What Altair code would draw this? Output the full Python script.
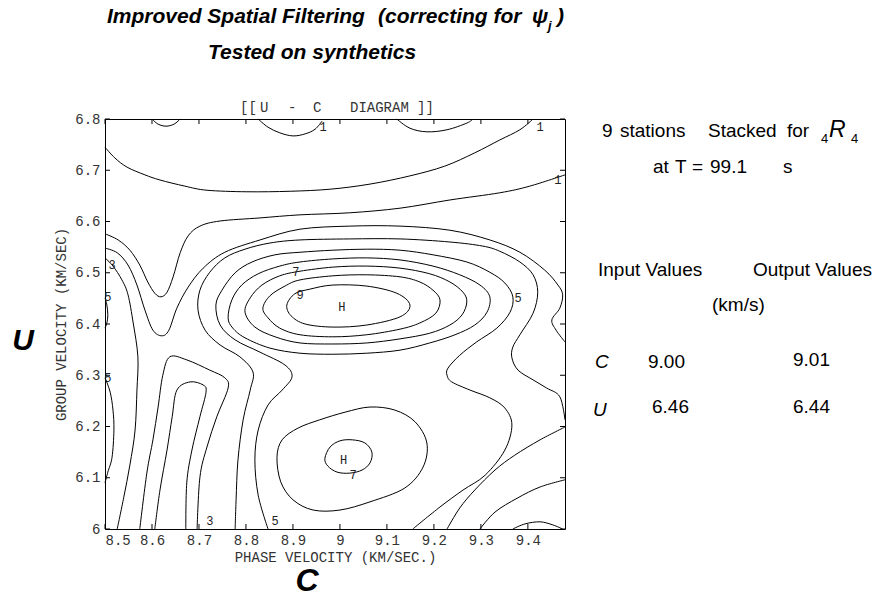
import altair as alt
import pandas as pd

# ---------------- axes ----------------
X_DOMAIN = [8.5, 9.479]
Y_DOMAIN = [6.0, 6.8]
X_TICKS = [8.5, 8.6, 8.7, 8.8, 8.9, 9.0, 9.1, 9.2, 9.3, 9.4]
Y_TICKS = [6.0, 6.1, 6.2, 6.3, 6.4, 6.5, 6.6, 6.7, 6.8]

# ---------------- contour lines (c = phase velocity, U = group velocity) ----------------
T1_C = [8.600, 8.613, 8.630, 8.647, 8.660]
T1_U = [6.800, 6.790, 6.786, 6.790, 6.800]
T2_C = [8.826, 8.847, 8.872, 8.900, 8.926, 8.947, 8.962]
T2_U = [6.800, 6.784, 6.773, 6.767, 6.771, 6.780, 6.796]
T3_C = [9.121, 9.149, 9.185, 9.228, 9.270, 9.283]
T3_U = [6.800, 6.782, 6.775, 6.779, 6.792, 6.800]
T4_C = [8.500, 8.521, 8.547, 8.585, 8.617, 8.670, 8.717, 8.802, 8.894, 8.979, 9.064, 9.149, 9.223, 9.287, 9.340, 9.383, 9.411]
T4_U = [6.745, 6.724, 6.706, 6.691, 6.681, 6.669, 6.661, 6.658, 6.659, 6.663, 6.673, 6.689, 6.708, 6.734, 6.759, 6.779, 6.800]
T5_C = [8.500, 8.528, 8.553, 8.574, 8.591, 8.606, 8.619, 8.632, 8.645, 8.660, 8.677, 8.702, 8.745, 8.830, 8.915, 9.021, 9.128, 9.234, 9.340, 9.404, 9.479]
T5_U = [6.576, 6.564, 6.544, 6.515, 6.482, 6.460, 6.453, 6.462, 6.492, 6.539, 6.572, 6.591, 6.601, 6.607, 6.613, 6.617, 6.626, 6.642, 6.656, 6.669, 6.691]
T6_C = [8.500, 8.526, 8.549, 8.568, 8.585, 8.602, 8.621, 8.636, 8.653, 8.677, 8.709, 8.755, 8.830, 8.915, 9.021, 9.128, 9.234, 9.319, 9.383, 9.436, 9.464, 9.474, 9.468, 9.451, 9.460, 9.479]
T6_U = [6.548, 6.539, 6.515, 6.476, 6.427, 6.388, 6.377, 6.388, 6.431, 6.472, 6.509, 6.540, 6.564, 6.585, 6.591, 6.591, 6.583, 6.564, 6.540, 6.505, 6.476, 6.457, 6.431, 6.408, 6.388, 6.365]
E4_C = [9.479, 9.468, 9.440, 9.411, 9.379, 9.366, 9.368, 9.383, 9.411, 9.421, 9.411, 9.383, 9.340, 9.304, 9.234, 9.128, 9.021, 8.915, 8.851, 8.798, 8.755, 8.723, 8.702, 8.698, 8.713, 8.745, 8.787, 8.815, 8.809, 8.794, 8.783, 8.779, 8.777]
E4_U = [6.213, 6.258, 6.275, 6.291, 6.310, 6.334, 6.355, 6.379, 6.421, 6.462, 6.496, 6.521, 6.542, 6.552, 6.560, 6.566, 6.566, 6.564, 6.558, 6.546, 6.529, 6.501, 6.466, 6.427, 6.388, 6.359, 6.336, 6.306, 6.271, 6.213, 6.135, 6.057, 6.000]
E5_C = [8.847, 8.826, 8.819, 8.826, 8.847, 8.877, 8.898, 8.883, 8.830, 8.777, 8.745, 8.736, 8.749, 8.777, 8.813, 8.862, 8.915, 8.985, 9.057, 9.128, 9.198, 9.270, 9.319, 9.351, 9.368, 9.362, 9.334, 9.291, 9.255, 9.230, 9.228, 9.238, 9.277, 9.319, 9.351, 9.366, 9.351, 9.309, 9.262, 9.213, 9.155]
E5_U = [6.000, 6.066, 6.135, 6.193, 6.242, 6.271, 6.297, 6.320, 6.345, 6.369, 6.398, 6.437, 6.466, 6.500, 6.521, 6.535, 6.540, 6.544, 6.546, 6.544, 6.535, 6.521, 6.501, 6.480, 6.453, 6.423, 6.392, 6.365, 6.339, 6.314, 6.300, 6.287, 6.271, 6.256, 6.236, 6.203, 6.154, 6.105, 6.076, 6.043, 6.000]
RB1_C = [9.479, 9.426, 9.372, 9.330, 9.287, 9.255, 9.228]
RB1_U = [6.199, 6.174, 6.144, 6.115, 6.076, 6.041, 6.000]
RB2_C = [9.479, 9.426, 9.377, 9.330, 9.298]
RB2_U = [6.096, 6.082, 6.060, 6.033, 6.000]
RB3_C = [9.368, 9.394, 9.426, 9.453, 9.474]
RB3_U = [6.000, 6.010, 6.014, 6.008, 6.000]
L5_C = [8.500, 8.511, 8.517, 8.519, 8.515, 8.506, 8.500]
L5_U = [6.295, 6.267, 6.232, 6.193, 6.140, 6.111, 6.090]
LA_C = [8.500, 8.504, 8.506, 8.504, 8.500]
LA_U = [6.451, 6.437, 6.418, 6.402, 6.392]
L3_C = [8.500, 8.517, 8.536, 8.549, 8.560, 8.570, 8.568, 8.564, 8.553, 8.540, 8.526]
L3_U = [6.529, 6.513, 6.486, 6.457, 6.402, 6.336, 6.271, 6.193, 6.125, 6.062, 6.000]
TO_C = [8.574, 8.589, 8.602, 8.613, 8.623, 8.638, 8.674, 8.723, 8.755, 8.762, 8.738, 8.717, 8.702, 8.696]
TO_U = [6.000, 6.109, 6.174, 6.238, 6.300, 6.336, 6.330, 6.310, 6.295, 6.275, 6.219, 6.160, 6.101, 6.000]
TI_C = [8.606, 8.617, 8.632, 8.643, 8.653, 8.681, 8.709, 8.715, 8.702, 8.685, 8.674, 8.672]
TI_U = [6.000, 6.076, 6.154, 6.219, 6.271, 6.287, 6.281, 6.267, 6.219, 6.154, 6.090, 6.000]

# closed rings
E6_C = [8.762, 8.770, 8.791, 8.826, 8.872, 8.915, 8.985, 9.057, 9.128, 9.198, 9.255, 9.298, 9.319, 9.313, 9.287, 9.245, 9.191, 9.128, 9.057, 8.985, 8.915, 8.851, 8.798, 8.772]
E6_U = [6.412, 6.447, 6.476, 6.498, 6.513, 6.521, 6.527, 6.529, 6.525, 6.513, 6.496, 6.476, 6.453, 6.423, 6.398, 6.379, 6.363, 6.349, 6.343, 6.341, 6.343, 6.353, 6.373, 6.392]
E7_C = [8.798, 8.809, 8.834, 8.872, 8.915, 8.985, 9.057, 9.128, 9.191, 9.234, 9.262, 9.270, 9.260, 9.234, 9.191, 9.128, 9.057, 8.985, 8.915, 8.862, 8.819]
E7_U = [6.423, 6.451, 6.476, 6.494, 6.503, 6.511, 6.513, 6.509, 6.498, 6.482, 6.462, 6.443, 6.418, 6.398, 6.382, 6.371, 6.363, 6.361, 6.363, 6.375, 6.394]
E8_C = [8.836, 8.851, 8.883, 8.915, 8.985, 9.057, 9.128, 9.170, 9.198, 9.213, 9.204, 9.170, 9.128, 9.057, 8.985, 8.915, 8.872, 8.847]
E8_U = [6.431, 6.455, 6.474, 6.486, 6.494, 6.496, 6.492, 6.482, 6.466, 6.447, 6.421, 6.402, 6.390, 6.379, 6.375, 6.379, 6.392, 6.412]
E9_C = [8.887, 8.904, 8.936, 8.985, 9.057, 9.121, 9.149, 9.128, 9.057, 8.985, 8.926, 8.896]
E9_U = [6.437, 6.459, 6.468, 6.476, 6.474, 6.460, 6.437, 6.414, 6.398, 6.394, 6.400, 6.416]
R6_C = [8.866, 8.877, 8.911, 8.957, 9.011, 9.064, 9.117, 9.160, 9.185, 9.177, 9.138, 9.064, 9.000, 8.943, 8.900, 8.874]
R6_U = [6.140, 6.174, 6.197, 6.213, 6.228, 6.238, 6.232, 6.209, 6.168, 6.121, 6.080, 6.053, 6.037, 6.037, 6.057, 6.092]
R7_C = [8.968, 8.979, 9.000, 9.026, 9.053, 9.068, 9.064, 9.047, 9.021, 8.994, 8.974]
R7_U = [6.138, 6.160, 6.172, 6.174, 6.168, 6.150, 6.129, 6.115, 6.109, 6.111, 6.123]

OPEN_LINES = {
    "T1": (T1_C, T1_U), "T2": (T2_C, T2_U), "T3": (T3_C, T3_U), "T4": (T4_C, T4_U),
    "T5": (T5_C, T5_U), "T6": (T6_C, T6_U), "E4": (E4_C, E4_U), "E5": (E5_C, E5_U),
    "RB1": (RB1_C, RB1_U), "RB2": (RB2_C, RB2_U), "RB3": (RB3_C, RB3_U),
    "L5": (L5_C, L5_U), "LA": (LA_C, LA_U), "L3": (L3_C, L3_U),
    "TO": (TO_C, TO_U), "TI": (TI_C, TI_U),
}
CLOSED_LINES = {
    "E6": (E6_C, E6_U), "E7": (E7_C, E7_U), "E8": (E8_C, E8_U), "E9": (E9_C, E9_U),
    "R6": (R6_C, R6_U), "R7": (R7_C, R7_U),
}

# contour labels
LABEL_TEXT = ["3", "5", "5", "7", "9", "H", "5", "H", "7", "1", "1", "1", "3", "5"]
LABEL_C = [8.515, 8.506, 8.506, 8.906, 8.915, 9.004, 9.379, 9.008, 9.028, 8.964, 9.426, 9.464, 8.723, 8.862]
LABEL_U = [6.515, 6.453, 6.295, 6.501, 6.457, 6.433, 6.451, 6.135, 6.105, 6.784, 6.784, 6.681, 6.016, 6.016]


def to_frame(lines):
    rows = []
    for name, (cs, us) in lines.items():
        for i, (c, u) in enumerate(zip(cs, us)):
            rows.append({"line": name, "i": i, "c": c, "u": u})
    return pd.DataFrame(rows)


W, H = 460, 410
PLOT_FONT = "Liberation Mono"
xs = alt.Scale(domain=X_DOMAIN, nice=False, zero=False)
ys = alt.Scale(domain=Y_DOMAIN, nice=False, zero=False)

x_axis = alt.Axis(values=X_TICKS, format="~g", title="PHASE VELOCITY (KM/SEC.)",
                  labelPadding=4, titlePadding=3)
y_axis = alt.Axis(values=Y_TICKS, format="~g", title="GROUP VELOCITY (KM/SEC)",
                  labelPadding=5, titlePadding=6)


def X():
    return alt.X("c:Q", scale=xs, axis=x_axis)


def Y():
    return alt.Y("u:Q", scale=ys, axis=y_axis)


open_layer = alt.Chart(to_frame(OPEN_LINES)).mark_line(
    color="black", strokeWidth=1, interpolate="cardinal"
).encode(x=X(), y=Y(), detail="line:N", order="i:Q")

closed_layer = alt.Chart(to_frame(CLOSED_LINES)).mark_line(
    color="black", strokeWidth=1, interpolate="cardinal-closed"
).encode(x=X(), y=Y(), detail="line:N", order="i:Q")

label_layer = alt.Chart(pd.DataFrame({"t": LABEL_TEXT, "c": LABEL_C, "u": LABEL_U})).mark_text(
    font=PLOT_FONT, fontSize=12, color="#222"
).encode(x=X(), y=Y(), text="t:N")

# inward tick marks on all four sides
xt = pd.DataFrame({"c": X_TICKS})
yt = pd.DataFrame({"u": Y_TICKS})
tick_b = alt.Chart(xt).mark_rule(color="black").encode(x=X(), y=alt.value(H), y2=alt.value(H - 5))
tick_t = alt.Chart(xt).mark_rule(color="black").encode(x=X(), y=alt.value(0), y2=alt.value(5))
tick_l = alt.Chart(yt).mark_rule(color="black").encode(y=Y(), x=alt.value(0), x2=alt.value(5))
tick_r = alt.Chart(yt).mark_rule(color="black").encode(y=Y(), x=alt.value(W), x2=alt.value(W - 5))

ONE = pd.DataFrame({"k": [0]})


def txt(s, x, y, size=19, font="Liberation Sans", style="normal", weight="normal",
        align="left", color="black"):
    return alt.Chart(ONE).mark_text(
        text=s, x=x, y=y, fontSize=size, font=font, fontStyle=style,
        fontWeight=weight, align=align, baseline="middle", color=color,
    )


texts = [
    # page title
    txt("Improved Spatial Filtering", 2, -102, 21, style="italic", weight="bold"),
    txt("(correcting for", 273, -102, 21, style="italic", weight="bold"),
    txt("\u03c8", 427, -102, 21, style="italic", weight="bold"),
    txt("j", 443, -93, 13, style="italic", weight="bold"),
    txt(")", 452, -102, 21, style="italic", weight="bold"),
    txt("Tested on synthetics", 103, -66, 21, style="italic", weight="bold"),
    # diagram title (plotter lettering, widely spaced)
    txt("[[", 135, -11, 14, font=PLOT_FONT, color="#333"),
    txt("U", 155, -11, 14, font=PLOT_FONT, color="#333"),
    txt("-", 183, -11, 14, font=PLOT_FONT, color="#333"),
    txt("C", 208, -11, 14, font=PLOT_FONT, color="#333"),
    txt("DIAGRAM", 245, -11, 14, font=PLOT_FONT, color="#333"),
    txt("]]", 312, -11, 14, font=PLOT_FONT, color="#333"),
    # big axis letters
    txt("U", -82, 222, 30, style="italic", weight="bold", align="center"),
    txt("C", 202, 462, 32, style="italic", weight="bold", align="center"),
    # right panel
    txt("9", 497, 12), txt("stations", 515, 12), txt("Stacked", 603, 12), txt("for", 682, 12),
    txt("4", 716, 20, 13), txt("R", 724, 11, 23, style="italic"), txt("4", 746, 20, 13),
    txt("at", 548, 48), txt("T", 570, 48), txt("=", 587, 48), txt("99.1", 605, 48), txt("s", 678, 48),
    txt("Input Values", 493, 151), txt("Output Values", 648, 151),
    txt("(km/s)", 607, 186),
    txt("C", 490, 243, style="italic"), txt("9.00", 543, 243), txt("9.01", 688, 241),
    txt("U", 488, 291, style="italic"), txt("6.46", 547, 288), txt("6.44", 688, 288),
]

chart = alt.layer(
    open_layer, closed_layer, label_layer, tick_b, tick_t, tick_l, tick_r, *texts
).properties(
    width=W, height=H,
    autosize=alt.AutoSizeParams(type="none"),
    padding={"left": 105, "top": 119, "right": 316, "bottom": 72},
    background="white",
).configure_view(
    stroke="black", strokeWidth=1
).configure_axis(
    grid=False, domain=False, ticks=False,
    labelFont=PLOT_FONT, labelFontSize=14, labelColor="#333",
    titleFont=PLOT_FONT, titleFontSize=14, titleFontWeight="normal", titleColor="#333",
)

chart.save("out.html", embed_options={"renderer": "svg", "actions": False})
